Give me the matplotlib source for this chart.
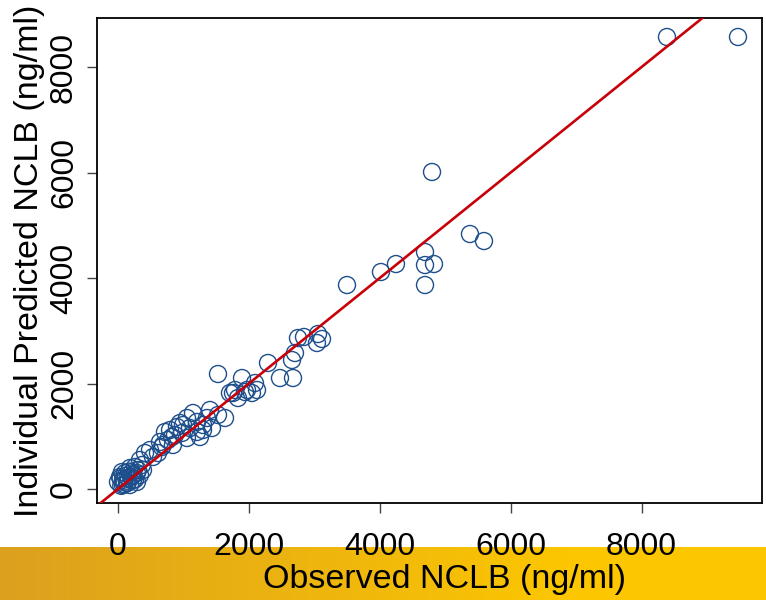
#! /usr/bin/env python3

import numpy as np
import matplotlib
matplotlib.use("Agg")
import matplotlib.pyplot as plt

plt.rcParams["font.family"] = ["Liberation Sans", "DejaVu Sans"]

# observed vs individual predicted concentrations (ng/ml)
observed = [
    8388, 9473, 4798, 3499, 4018, 4247, 4691, 4691, 4691, 4828, 5378, 5592,
    2750, 2842, 3056, 3117, 3040, 2704, 2659, 2292, 2475, 2674, 1895, 2093,
    2124, 1940, 1757, 1528, 1788, 1711, 1971, 2047, 1833,
    1528, 1406, 1360, 1635, 1299, 1146, 1054, 1207, 993, 1100, 901, 795,
    978, 871, 1054, 1207, 1253, 1299, 1436, 764, 642, 688, 840,
    718, 825, 947, 489, 535, 413, 611, 672, 336,
    183, 107, 229, 76, 290, 31, 153, 214, 260, 306, 367, 137, 61, 229,
    336, 0, 183, 76, 290, 382, 50, 100, 150,
    120, 200, 260, 90, 170, 40,
]
predicted = [
    8569, 8569, 6010, 3867, 4114, 4265, 4493, 4246, 3867, 4265, 4834, 4701,
    2862, 2882, 2938, 2844, 2768, 2578, 2445, 2389, 2104, 2104, 2104, 2009,
    1877, 1839, 1820, 2180, 1877, 1820, 1877, 1820, 1725,
    1403, 1498, 1346, 1346, 1213, 1441, 1346, 1270, 1213, 1156, 1175, 1118,
    1062, 1024, 967, 1081, 986, 1118, 1156, 929, 891, 834, 834,
    1081, 986, 1251, 739, 607, 682, 682, 796, 550,
    398, 303, 265, 171, 133, 228, 209, 322, 417, 360, 455, 114, 322, 171,
    265, 133, 76, 76, 303, 360, 60, 90, 120,
    250, 230, 180, 140, 330, 200,
]

ticks = [0, 2000, 4000, 6000, 8000]

fig = plt.figure(figsize=(7.66, 6), dpi=100)

# orange banner along the bottom of the slide
band = fig.add_axes([0, 0, 1, 0.088], zorder=-1)
grad = np.linspace(0, 1, 256)
left = np.array([0.86, 0.63, 0.12])
right = np.array([0.99, 0.78, 0.0])
t = np.clip(grad / 0.75, 0, 1)[:, None]
colors = left * (1 - t) + right * t
band.imshow(colors[None, :, :], aspect="auto", extent=[0, 1, 0, 1])
band.axis("off")

ax = fig.add_axes([0.1266, 0.1617, 0.8682, 0.8083])
ax.scatter(observed, predicted, s=150, facecolors="none",
           edgecolors="#1d4f8c", linewidths=1.0, zorder=2)
ax.axline((0, 0), slope=1, color="#c8000a", linewidth=1.9, zorder=3)

ax.set_xlim(-321, 9840)
ax.set_ylim(-265, 8929)
ax.set_xticks(ticks)
ax.set_yticks(ticks)
ax.tick_params(axis="x", length=7, width=1, color="#444444",
               labelsize=23, pad=14)
ax.tick_params(axis="y", length=7, width=1, color="#444444",
               labelsize=23, pad=6)
plt.setp(ax.get_yticklabels(), rotation=90, va="center")

for sp in ax.spines.values():
    sp.set_linewidth(1.3)
    sp.set_color("black")

ax.set_xlabel("Observed NCLB (ng/ml)", fontsize=24.5)
ax.set_ylabel("Individual Predicted NCLB (ng/ml)", fontsize=24.5)
ax.xaxis.set_label_coords(0.523, -0.126)
ax.yaxis.set_label_coords(-0.078, 0.5)

plt.savefig("out.png", dpi=100)
